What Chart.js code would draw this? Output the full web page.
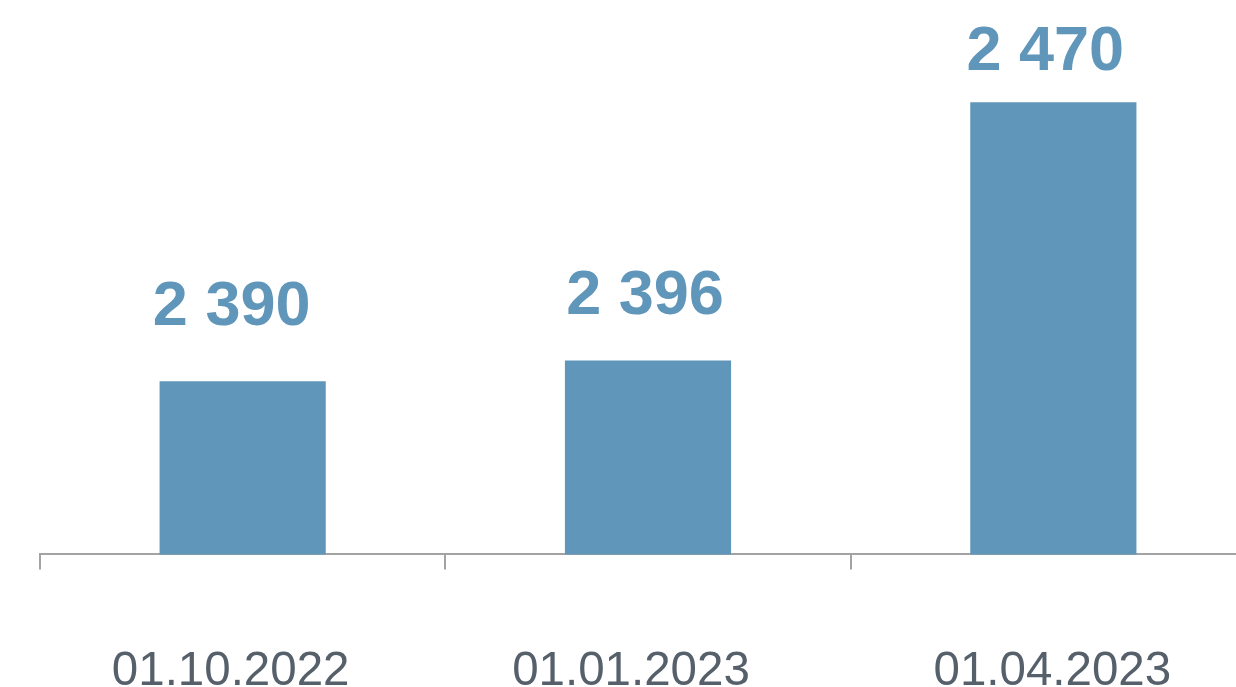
<!DOCTYPE html>
<html>
<head>
<meta charset="utf-8">
<script src="https://cdn.jsdelivr.net/npm/chart.js@4"></script>
<style>
  html, body { margin: 0; padding: 0; background: #fff; overflow: hidden; }
  #wrap { position: relative; width: 1256px; height: 773px; }
</style>
</head>
<body>
<div id="wrap"><canvas id="grafico"></canvas></div>
<script>
const fechas = ['01.10.2022', '01.01.2023', '01.04.2023'];
const valores = [2390, 2396, 2470];

// separación etiqueta-barra y ajustes horizontales (solo estilo)
const gapEtiqueta = [56, 46, 32];
const ajusteX = [-11, -3, -8];
const ajusteFecha = [-12, -17, -1];

const azul = '#6096b9';
const gris = '#56606b';

function formato(v) {
  return String(v).replace(/\B(?=(\d{3})+(?!\d))/g, ' ');
}

const etiquetas = {
  id: 'etiquetas',
  afterDatasetsDraw(chart) {
    const ctx = chart.ctx;
    const meta = chart.getDatasetMeta(0);
    ctx.save();
    ctx.font = 'bold 63px "Liberation Sans", Arial, sans-serif';
    ctx.fillStyle = azul;
    ctx.textAlign = 'center';
    ctx.textBaseline = 'alphabetic';
    meta.data.forEach((bar, i) => {
      ctx.fillText(formato(valores[i]), bar.x + ajusteX[i], bar.y - gapEtiqueta[i]);
    });
    // fechas bajo el eje
    const xScale = chart.scales.x;
    ctx.font = '47.5px "Liberation Sans", Arial, sans-serif';
    ctx.fillStyle = gris;
    fechas.forEach((f, i) => {
      ctx.fillText(f, xScale.getPixelForTick(i) + ajusteFecha[i], 685);
    });
    ctx.restore();
  }
};

const ctx = document.getElementById('grafico').getContext('2d');

new Chart(ctx, {
  type: 'bar',
  data: {
    labels: fechas,
    datasets: [{
      data: valores,
      backgroundColor: azul,
      barPercentage: 0.41,
      categoryPercentage: 1
    }]
  },
  options: {
    responsive: true,
    maintainAspectRatio: false,
    animation: false,
    layout: { padding: { left: 40, right: 0, top: 0, bottom: 0 } },
    plugins: {
      legend: { display: false },
      tooltip: { enabled: false }
    },
    scales: {
      y: {
        display: false,
        min: 2340.4,
        max: 2499.3
      },
      x: {
        grid: {
          drawOnChartArea: false,
          drawTicks: true,
          tickLength: 15,
          color: '#a3a3a3',
          lineWidth: 2,
          offset: true
        },
        border: { display: true, color: '#a3a3a3', width: 2 },
        ticks: {
          color: 'rgba(0,0,0,0)',
          padding: 73,
          font: { family: '"Liberation Sans", Arial, sans-serif', size: 48 }
        }
      }
    }
  },
  plugins: [etiquetas]
});
</script>
</body>
</html>
